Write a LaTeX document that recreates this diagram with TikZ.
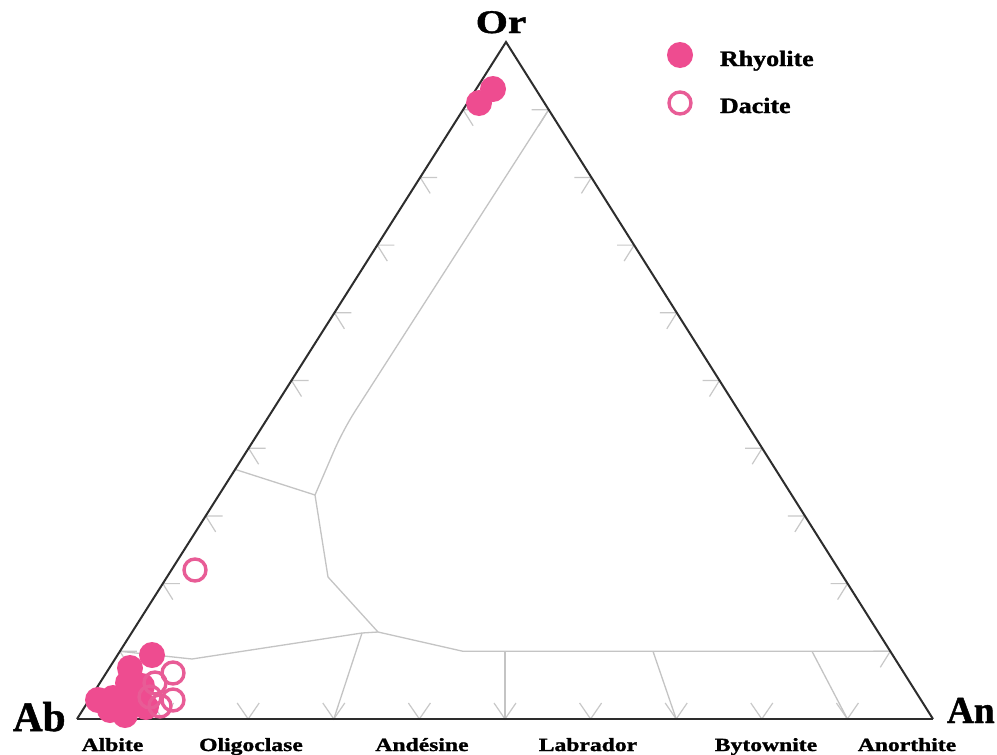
\documentclass[tikz,border=0pt]{standalone}
\usepackage{fontspec}
\setmainfont{Liberation Serif}
\newfontfamily\heavyserif[FakeBold=1.2]{Liberation Serif Bold}
\usetikzlibrary{calc}
\definecolor{pinkpt}{RGB}{238,76,144}
\definecolor{ringpt}{RGB}{232,92,150}
\definecolor{edgec}{RGB}{45,45,45}
\definecolor{fieldc}{RGB}{196,196,196}
\definecolor{tickc}{RGB}{200,200,200}
\newcommand\wlab[3]{\scalebox{#2}[1]{\fontsize{#1}{#1}\selectfont\heavyserif #3}}
\tikzset{
  edgeline/.style={draw=edgec, line width=2pt, line join=miter},
  fieldline/.style={draw=fieldc, line width=1.3pt, line join=round},
  tickline/.style={draw=tickc, line width=1.2pt},
  filledpt/.style={fill=pinkpt, draw=none},
  openpt/.style={draw=ringpt, line width=3.4pt, fill=none},
  lab/.style={inner sep=0pt, outer sep=0pt}
}
\begin{document}
\begin{tikzpicture}[x=1pt,y=-1pt]
\useasboundingbox (0,0) rectangle (997,755);
\fill[white] (0,0) rectangle (997,755);
% vertices
\coordinate (Ab) at (77,719);
\coordinate (An) at (933,719);
\coordinate (Or) at (506,42);
% ticks
\foreach \k in {1,...,9} {
  \draw[tickline] ($(Ab)!\k/10!(An)$) ++(-11,-16) -- ++(11,16) -- ++(11,-16);
  \draw[tickline] ($(Ab)!\k/10!(Or)$) ++(17,0) -- ++(-17,0) -- ++(10,16);
  \draw[tickline] ($(An)!\k/10!(Or)$) ++(-17,0) -- ++(17,0) -- ++(-10,16);
}
% field boundaries
\coordinate (r1) at ($(An)!0.9!(Or)$);
\coordinate (r9) at ($(An)!0.1!(Or)$);
\coordinate (l1) at ($(Ab)!0.1!(Or)$);
\coordinate (l37) at ($(Ab)!0.3687!(Or)$);
\coordinate (b3) at ($(Ab)!0.3!(An)$);
\coordinate (b5) at ($(Ab)!0.5!(An)$);
\coordinate (b7) at ($(Ab)!0.7!(An)$);
\coordinate (b9) at ($(Ab)!0.9!(An)$);
\coordinate (k1) at (315,495);
\coordinate (j1) at (378,632);
\coordinate (j2) at (362,633);
\coordinate (h1) at (463,651.3);
\coordinate (h5) at (505,651.3);
\coordinate (h7) at (653,651.3);
\coordinate (h9) at (812,651.3);
\draw[fieldline, rounded corners=22pt] (r1) -- (343,430) -- (k1);
\draw[fieldline] (k1) -- (l37);
\draw[fieldline] (k1) -- (328,577) -- (j1);
\draw[fieldline] (l1) -- (192,659) -- (j2) -- (j1);
\draw[fieldline] (j2) -- (b3);
\draw[fieldline] (j1) -- (h1) -- (r9);
\draw[fieldline] (h5) -- (b5);
\draw[fieldline] (h7) -- (b7);
\draw[fieldline] (h9) -- (b9);
% triangle
\draw[edgeline] (Ab) -- (Or) -- (An);
\draw[edgeline, line width=2.6pt] (Ab) -- (An);
% data: rhyolite (filled)
\foreach \p in {(493,89),(479,103),(152,655),(130,668),(128,683),(142,686),(98,700),(113,698),(125,715),(136,700),(146,707),(110,710)} {
  \fill[filledpt] \p circle (13);
}
% data: dacite (open)
\foreach \p in {(195,570),(173,673),(173,700),(155,683),(160,706),(150,697)} {
  \draw[openpt] \p circle (11);
}
% legend
\fill[filledpt] (680,55) circle (13);
\draw[openpt] (680,103) circle (11);
\node[lab, anchor=base west] (lr) at (720,66) {\wlab{22}{1.18}{Rhyolite}};
\node[lab, anchor=base west] (ld) at (720,113) {\wlab{22}{1.18}{Dacite}};
% vertex labels
\node[lab, anchor=base] (orl) at (501,33) {\wlab{33}{1.25}{Or}};
\node[lab, anchor=base west] (abl) at (13,731) {\wlab{42}{0.98}{Ab}};
\node[lab, anchor=base west] (anl) at (947,723) {\wlab{38}{0.98}{An}};
% bottom labels
\node[lab, anchor=base] (t1) at (112.5,751) {\wlab{18.6}{1.27}{Albite}};
\node[lab, anchor=base] (t2) at (251,751) {\wlab{18.6}{1.27}{Oligoclase}};
\node[lab, anchor=base] (t3) at (422,751) {\wlab{18.6}{1.27}{Andésine}};
\node[lab, anchor=base] (t4) at (588,751) {\wlab{18.6}{1.27}{Labrador}};
\node[lab, anchor=base] (t5) at (766,751) {\wlab{18.6}{1.27}{Bytownite}};
\node[lab, anchor=base] (t6) at (907,751) {\wlab{18.6}{1.27}{Anorthite}};
\end{tikzpicture}
\end{document}
